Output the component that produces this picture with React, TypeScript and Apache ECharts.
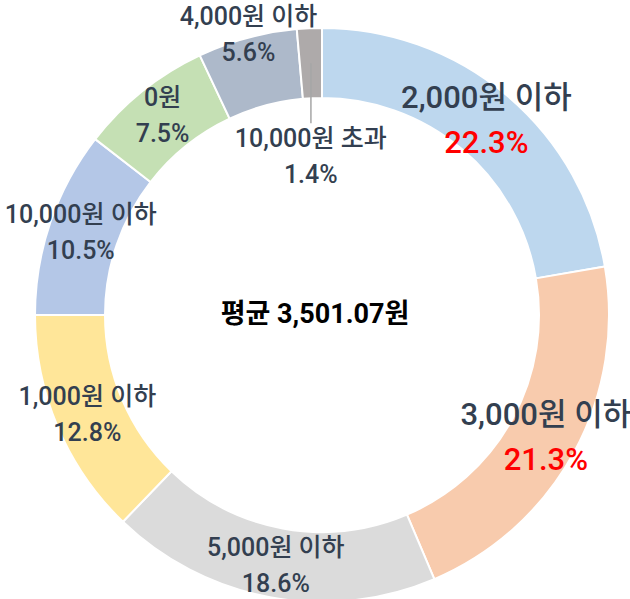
import React, { useEffect, useRef } from "react";
import * as echarts from "echarts";

const categories = [
  "2,000원 이하",
  "3,000원 이하",
  "5,000원 이하",
  "1,000원 이하",
  "10,000원 이하",
  "0원",
  "4,000원 이하",
  "10,000원 초과",
];
const shares = [22.3, 21.3, 18.6, 12.8, 10.5, 7.5, 5.6, 1.4];
const colors = [
  "#BDD7EE",
  "#F8CBAD",
  "#DBDBDB",
  "#FFE699",
  "#B4C7E7",
  "#C5E0B4",
  "#ADB9CA",
  "#AEAAAA",
];
const highlighted = ["2,000원 이하", "3,000원 이하"];
const centerText = "평균 3,501.07원";

const FONT = "Roboto, 'Noto Sans CJK KR', sans-serif";
const CX = 322;
const CY = 315;
const R0 = 217;
const R1 = 287;

export default function App() {
  const ref = useRef<HTMLDivElement>(null);
  useEffect(() => {
    if (!ref.current) return;
    const chart = echarts.init(ref.current, undefined, { renderer: "svg" });

    const total = shares.reduce((a, b) => a + b, 0);
    const lastIdx = shares.length - 1;
    const before = shares.slice(0, lastIdx).reduce((a, b) => a + b, 0);
    const midFrac = (before + shares[lastIdx] / 2) / total;
    const theta = midFrac * Math.PI * 2;
    const rMid = (R0 + R1) / 2;
    const lx = CX + rMid * Math.sin(theta);
    const ly = CY - rMid * Math.cos(theta);

    const data = categories.map((name, i) => {
      const big = highlighted.includes(name);
      const item: any = {
        name,
        value: shares[i],
        itemStyle: { color: colors[i] },
      };
      if (big) {
        item.label = {
          rich: {
            n: { fontSize: 31, lineHeight: 45, color: "#333F50", fontFamily: FONT, fontWeight: 500 },
            p: { fontSize: 31, lineHeight: 45, color: "#FF0000", fontFamily: FONT, fontWeight: 500 },
          },
        };
      }
      if (name === "4,000원 이하") {
        item.label = { offset: [-7, -34] };
      }
      if (i === lastIdx) {
        item.label = { offset: [0, 96] };
      }
      return item;
    });

    chart.setOption({
      animation: false,
      graphic: [
        {
          type: "text",
          left: "center",
          top: CY - 15,
          style: {
            text: centerText,
            fontSize: 27,
            fontWeight: "bold",
            fill: "#000000",
            fontFamily: FONT,
          },
        },
        {
          type: "line",
          shape: { x1: lx, y1: ly, x2: lx, y2: ly + 60 },
          style: { stroke: "#A6A6A6", lineWidth: 1.5 },
          z: 100,
        },
      ],
      series: [
        {
          type: "pie",
          center: [CX, CY],
          radius: [R0, R1],
          startAngle: 90,
          clockwise: true,
          avoidLabelOverlap: false,
          itemStyle: { borderColor: "#ffffff", borderWidth: 2 },
          label: {
            show: true,
            position: "inside",
            formatter: (p: any) => `{n|${p.name}}\n{p|${Number(p.value).toFixed(1)}%}`,
            rich: {
              n: { fontSize: 25, lineHeight: 36, color: "#333F50", fontFamily: FONT, fontWeight: 500 },
              p: { fontSize: 25, lineHeight: 36, color: "#333F50", fontFamily: FONT, fontWeight: 500 },
            },
          },
          labelLine: { show: false },
          emphasis: { disabled: true },
          data,
        },
      ],
    });
    return () => chart.dispose();
  }, []);
  return (
    <div
      ref={ref}
      style={{ position: "fixed", left: 0, top: 0, width: 630, height: 599, background: "#fff" }}
    />
  );
}
